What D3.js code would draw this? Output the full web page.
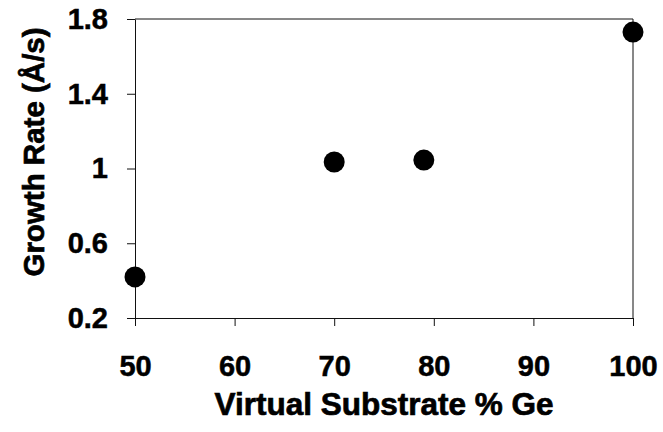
<!DOCTYPE html>
<html>
<head>
<meta charset="utf-8">
<script src="https://cdn.jsdelivr.net/npm/d3@7"></script>
<style>
  html, body { margin: 0; padding: 0; background: #fff; }
  svg { display: block; }
  text { font-family: Arial, "Liberation Sans", Helvetica, sans-serif; fill: #000; }
</style>
</head>
<body>
<svg id="chart" width="663" height="432"></svg>
<script>
// Growth rate versus Ge content of the virtual substrate
const geContent = [50, 70, 79, 100];
const growthRate = [0.42, 1.035, 1.045, 1.73];

const xTicks = [50, 60, 70, 80, 90, 100];
const yTicks = [0.2, 0.6, 1, 1.4, 1.8];
const yTickLabels = ["0.2", "0.6", "1", "1.4", "1.8"];

const svg = d3.select("#chart");
const margin = { left: 135, right: 30, top: 19, bottom: 114 };
const W = 663, H = 432;

const x = d3.scaleLinear().domain([50, 100]).range([margin.left, W - margin.right]);
const y = d3.scaleLinear().domain([0.2, 1.8]).range([H - margin.bottom, margin.top]);

// frame (top and right edges)
svg.append("path")
  .attr("d", `M${x(50)},${y(1.8)}H${x(100)}V${y(0.2)}`)
  .attr("fill", "none").attr("stroke", "#111").attr("stroke-width", 1);

const xAxis = svg.append("g")
  .attr("transform", `translate(0,${y(0.2)})`)
  .call(d3.axisBottom(x).tickValues(xTicks).tickSize(8).tickPadding(29).tickSizeOuter(0));

const yAxis = svg.append("g")
  .attr("transform", `translate(${x(50)},0)`)
  .call(d3.axisLeft(y).tickValues(yTicks).tickSize(8).tickPadding(19).tickSizeOuter(0)
    .tickFormat((d, i) => yTickLabels[i]));

[xAxis, yAxis].forEach(g => {
  g.select(".domain").attr("stroke", "#111").attr("stroke-width", 1);
  g.selectAll(".tick line").attr("stroke", "#111").attr("stroke-width", 1);
  g.selectAll(".tick text")
    .attr("font-family", "Arial, 'Liberation Sans', sans-serif")
    .attr("font-size", 29).attr("font-weight", "bold").attr("fill", "#000")
    .attr("stroke", "#000").attr("stroke-width", 0.5);
});

// data points
svg.append("g").selectAll("circle")
  .data(geContent.map((g, i) => ({ g, r: growthRate[i] })))
  .join("circle")
  .attr("cx", d => x(d.g))
  .attr("cy", d => y(d.r))
  .attr("r", 10.5)
  .attr("fill", "#000");

// axis titles
svg.append("text")
  .attr("x", (x(50) + x(100)) / 2)
  .attr("y", 415)
  .attr("text-anchor", "middle")
  .attr("font-size", 31.5).attr("font-weight", "bold")
  .attr("stroke", "#000").attr("stroke-width", 0.7)
  .text("Virtual Substrate % Ge");

svg.append("text")
  .attr("transform", `translate(44,152) rotate(-90)`)
  .attr("text-anchor", "middle")
  .attr("font-size", 29.5).attr("font-weight", "bold")
  .attr("stroke", "#000").attr("stroke-width", 0.7)
  .text("Growth Rate (Å/s)");
</script>
</body>
</html>
